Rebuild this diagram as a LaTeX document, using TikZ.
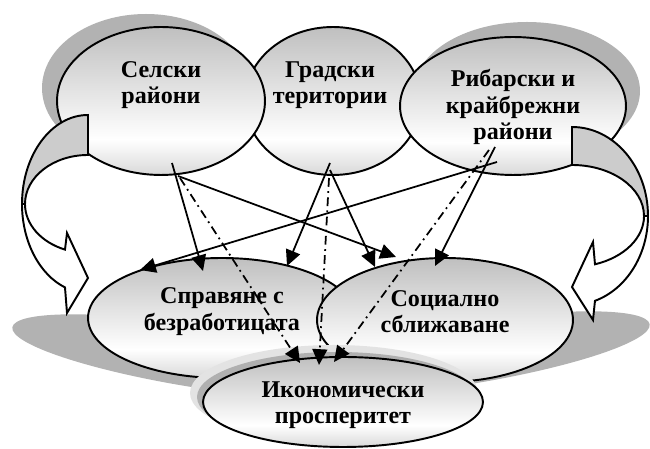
\documentclass[tikz,border=0pt]{standalone}
\usepackage{fontspec}
\setmainfont{Liberation Serif}
\usetikzlibrary{shapes.geometric,arrows.meta}
\pgfdeclareverticalshading{ellshade}{100bp}{color(0bp)=(gray!30); color(25bp)=(gray!30); color(37bp)=(white); color(75bp)=(gray!50); color(100bp)=(gray!50)}
\tikzset{
  ell/.style={ellipse, draw=black, line width=1.1pt, shade, shading=ellshade, inner sep=0pt},
  shad/.style={gray!60},
  carr/.style={draw=black, line width=1.1pt, line join=miter},
  txt/.style={align=center, font=\fontsize{13.7}{15}\selectfont\bfseries, inner sep=0pt},
  conn/.style={line width=1pt, -{Triangle[length=9pt,width=8.5pt]}},
  dd/.style={conn, dash pattern=on 5pt off 2.5pt on 1pt off 2.5pt}
}
\begin{document}
\begin{tikzpicture}[x=0.02cm,y=0.02cm]
\useasboundingbox (0,0) rectangle (650,449);
% shadows
\fill[shad] (146,361) ellipse [x radius=104, y radius=74];
\fill[shad] (527,358) ellipse [x radius=113, y radius=69];
\fill[shad, rotate around={-9:(200,92)}] (200,92) ellipse [x radius=190, y radius=31];
\fill[shad, rotate around={9:(462,95)}] (462,95) ellipse [x radius=190, y radius=31];
% top ellipses
\node[ell, minimum width=3.52cm, minimum height=2.96cm] (grad) at (333,348) {};
\node[ell, minimum width=4.16cm, minimum height=2.96cm] (sel) at (161,348) {};
\node[ell, minimum width=4.52cm, minimum height=2.76cm] (rib) at (513,343) {};
% bottom ellipses
\node[ell, minimum width=5.36cm, minimum height=2.40cm] (sprav) at (222,131) {};
\node[ell, minimum width=5.12cm, minimum height=2.48cm] (soc) at (445,129) {};
\fill[gray!22] (334,56) ellipse [x radius=144, y radius=48];
\fill[gray!62] (337,52) ellipse [x radius=140, y radius=45];
\node[ell, minimum width=5.60cm, minimum height=1.80cm] (ikon) at (343,47) {};
% left curved arrow
\filldraw[carr, fill=gray!40] (88,334) arc[start angle=90, end angle=180, x radius=66, y radius=89]
  -- (25,245) arc[start angle=180, end angle=90, x radius=63, y radius=49] -- cycle;
\filldraw[carr, fill=white] (22,245) arc[start angle=180, end angle=249.6, x radius=66, y radius=89]
  -- (67,136) -- (88,171) -- (67,216) -- (65,199.4)
  arc[start angle=248.6, end angle=180, x radius=63, y radius=49] -- cycle;
% right curved arrow
\filldraw[carr, fill=gray!40] (572,322) arc[start angle=90, end angle=0, x radius=76, y radius=89]
  -- (644,233) arc[start angle=0, end angle=90, x radius=72, y radius=51] -- cycle;
\filldraw[carr, fill=white] (648,233) arc[start angle=0, end angle=-72.4, x radius=76, y radius=89]
  -- (593,129) -- (572,162) -- (593,207) -- (595,184.7)
  arc[start angle=-71.4, end angle=0, x radius=72, y radius=51] -- cycle;
% texts
\node[txt] (selt) at (161,364) {Селски\\райони};
\node[txt] (gradt) at (330,364) {Градски\\територии};
\node[txt] (ribt) at (513,342) {Рибарски и\\крайбрежни\\райони};
\node[txt] (spravt) at (222,137.5) {Справяне с\\безработицата};
\node[txt] (soct) at (445,137.5) {Социално\\сближаване};
\node[txt] (ikont) at (343,44) {Икономически\\просперитет};
% connector ends
\coordinate (s1) at (172,286); \coordinate (t1) at (203,178);
\coordinate (s2) at (178,273); \coordinate (t2) at (396,192);
\coordinate (s3) at (180,271); \coordinate (t3) at (300,86);
\coordinate (s4) at (330,286); \coordinate (t4) at (287,183);
\coordinate (s5) at (330,279); \coordinate (t5) at (375,182);
\coordinate (s6) at (329,271); \coordinate (t6) at (319,84);
\coordinate (s7) at (497,287); \coordinate (t7) at (140,179);
\coordinate (s8) at (495,302); \coordinate (t8) at (435,183);
\coordinate (s9) at (489,299); \coordinate (t9) at (334,87);
% connectors
\draw[conn] (s1) -- (t1);
\draw[conn] (s2) -- (t2);
\draw[dd] (s3) -- (t3);
\draw[conn] (s4) -- (t4);
\draw[conn] (s5) -- (t5);
\draw[dd] (s6) -- (t6);
\draw[conn] (s7) -- (t7);
\draw[conn] (s8) -- (t8);
\draw[dd] (s9) -- (t9);
\end{tikzpicture}
\end{document}
